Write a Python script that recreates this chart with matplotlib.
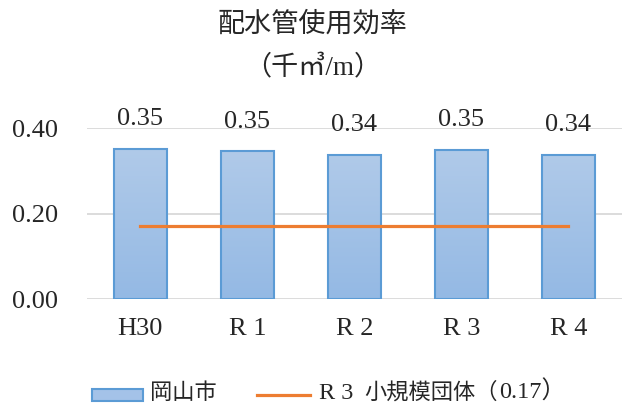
import matplotlib.pyplot as plt
import numpy as np
from matplotlib.patches import Rectangle
from matplotlib.lines import Line2D

plt.rcParams['font.family'] = ['Liberation Serif', 'Noto Sans CJK JP']

# data
years = ['H30', 'R 1', 'R 2', 'R 3', 'R 4']
okayama = [0.351, 0.346, 0.338, 0.349, 0.338]
labels = ['0.35', '0.35', '0.34', '0.35', '0.34']
small_avg = [0.17, 0.17, 0.17, 0.17, 0.17]
yticks = [0.0, 0.2, 0.4]

W, H = 625, 403
TXT = '#262626'
fig = plt.figure(figsize=(W / 100, H / 100), dpi=100)
ax = fig.add_axes([0.139, 0.258, 0.856, 0.424])

x = np.arange(len(years))
bars = ax.bar(x, okayama, width=0.5, color='none', edgecolor='#5B9BD5',
              linewidth=1.5, zorder=3)

# vertical gradient inside each bar
grad = np.linspace(0, 1, 256).reshape(-1, 1)
top_c = np.array([176, 202, 233]) / 255
bot_c = np.array([148, 185, 228]) / 255
img = top_c * (1 - grad[..., None]) + bot_c * grad[..., None]
for b in bars:
    x0, y0 = b.get_x(), b.get_y()
    w, h = b.get_width(), b.get_height()
    im = ax.imshow(img, extent=[x0, x0 + w, y0, y0 + h], aspect='auto',
                   origin='upper', zorder=2)
    im.set_clip_path(b)

ax.plot(x, small_avg, color='#ED7D31', linewidth=2.3, zorder=4)

for xi, v, t in zip(x, okayama, labels):
    ax.annotate(t, (xi, v), xytext=(0, 17), textcoords='offset points',
                ha='center', va='baseline', fontsize=19, color=TXT)

ax.set_xlim(-0.5, 4.5)
ax.set_ylim(0, 0.4)
ax.set_yticks(yticks)
ax.set_yticklabels(['%.2f' % t for t in yticks])
ax.set_xticks(x)
ax.set_xticklabels(years)
ax.tick_params(axis='y', length=0, pad=21, labelsize=19, labelcolor=TXT)
ax.tick_params(axis='x', length=0, pad=14, labelsize=19, labelcolor=TXT)
ax.grid(axis='y', color='#D9D9D9', linewidth=1.3, zorder=0)
ax.set_axisbelow(True)
for s in ax.spines.values():
    s.set_visible(False)

fig.text(0.5, 1 - 25 / H, '配水管使用効率', ha='center', va='center',
         fontsize=19.5, color=TXT)
fig.text(0.5, 1 - 68 / H, '（千㎥/m）', ha='center', va='center',
         fontsize=19.5, color=TXT)

# legend, built by hand so the latin and japanese parts get their own sizes
fig.add_artist(Rectangle((92 / W, 1 - 401 / H), 51 / W, 12 / H,
                         transform=fig.transFigure, facecolor='#A4C2E8',
                         edgecolor='#5B9BD5', linewidth=1.5))
fig.add_artist(Line2D([257 / W, 310 / W], [1 - 395 / H, 1 - 395 / H],
                      transform=fig.transFigure, color='#ED7D31',
                      linewidth=2.3))
base = 1 - 399 / H
cjk = ['Noto Sans CJK JP']
fig.text(150 / W, base, '岡山市', va='baseline', fontsize=16, family=cjk,
         color=TXT)
fig.text(319 / W, base, 'R 3', va='baseline', fontsize=17.5, color=TXT)
fig.text(364 / W, base, '小規模団体（', va='baseline', fontsize=16,
         family=cjk, color=TXT)
fig.text(499 / W, base, '0.17）', va='baseline', fontsize=17.5, color=TXT)

fig.savefig('out.png', dpi=100)
